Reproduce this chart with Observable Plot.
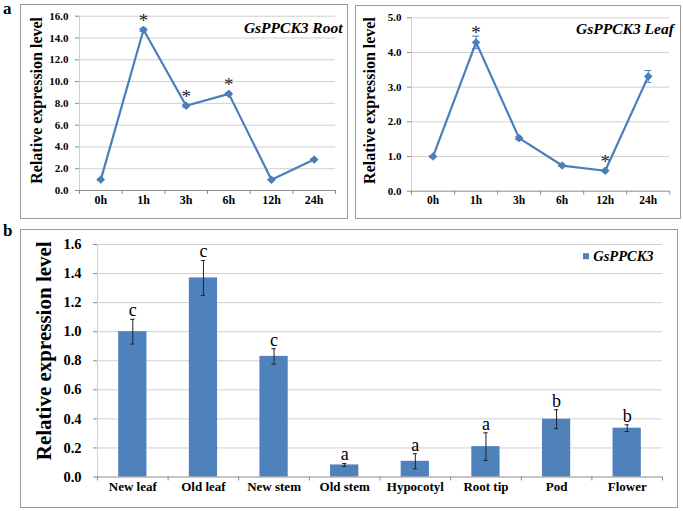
<!DOCTYPE html>
<html>
<head>
<meta charset="utf-8">
<script src="https://cdn.jsdelivr.net/npm/d3@7"></script>
<script src="https://cdn.jsdelivr.net/npm/@observablehq/plot@0.6"></script>
<style>
  body { margin: 0; background: #fff; }
  #wrap { position: relative; width: 683px; height: 511px; overflow: hidden; font-family: "Liberation Serif", serif; background: #fff; }
  .panel { position: absolute; }
  .panel svg { display: block; outline: 1px solid #9a9a9a; outline-offset: -1px; }
  .panel svg [aria-label^="x-axis"] line, .panel svg [aria-label^="x-axis"] path,
  .panel svg [aria-label^="y-axis"] line, .panel svg [aria-label^="y-axis"] path { stroke: #8c8c8c; }
  .lab { position: absolute; font-weight: bold; font-size: 17px; line-height: 1; }
</style>
</head>
<body>
<div id="wrap"></div>
<script>
// ---- data ----
const timePoints = ["0h", "1h", "3h", "6h", "12h", "24h"];
const rootValues = [1.0, 14.75, 7.78, 8.87, 0.98, 2.84];
const rootErrors = [0.08, 0.15, 0.12, 0.12, 0.06, 0.1];
const rootStars  = [false, true, true, true, false, false];
const rootTicks  = [0, 2, 4, 6, 8, 10, 12, 14, 16];

const leafValues = [1.0, 4.29, 1.53, 0.74, 0.59, 3.31];
const leafErrors = [0.03, 0.18, 0.05, 0.03, 0.03, 0.17];
const leafStars  = [false, true, false, false, true, false];
const leafTicks  = [0, 1, 2, 3, 4, 5];

const tissues = ["New leaf", "Old leaf", "New stem", "Old stem", "Hypocotyl", "Root tip", "Pod", "Flower"];
const tissueValues  = [1.0, 1.37, 0.83, 0.083, 0.108, 0.209, 0.398, 0.336];
const tissueErrors  = [0.085, 0.12, 0.053, 0.01, 0.052, 0.095, 0.065, 0.023];
const tissueLetters = ["c", "c", "c", "a", "a", "a", "b", "b"];
const tissueTicks   = [0, 0.2, 0.4, 0.6, 0.8, 1.0, 1.2, 1.4, 1.6];

const yTitle = "Relative expression level";
const geneName = "GsPPCK3";

// ---- styles ----
const BLUE = "#4a7ebb";
const BAR = "#4f81bd";
const GRID = "#d0d0d0";
const AXIS = "#8c8c8c";
const FONT = "Liberation Serif";

const wrap = document.getElementById("wrap");
function place(node, left, top) {
  const d = document.createElement("div");
  d.className = "panel";
  d.style.left = left + "px";
  d.style.top = top + "px";
  d.appendChild(node);
  wrap.appendChild(d);
}
function label(txt, left, top) {
  const d = document.createElement("div");
  d.className = "lab";
  d.textContent = txt;
  d.style.left = left + "px";
  d.style.top = top + "px";
  wrap.appendChild(d);
}

function lineChart(o) {
  const rows = timePoints.map((t, i) => ({t, i, v: o.values[i], e: o.errors[i], star: o.stars[i]}));
  const n = timePoints.length;
  const bounds = d3.range(n + 1).map(k => k - 0.5);
  const cap = 0.08;
  return Plot.plot({
    width: o.w, height: o.h,
    marginTop: o.m[0], marginRight: o.m[1], marginBottom: o.m[2], marginLeft: o.m[3],
    style: {fontFamily: FONT, fontSize: "11px", fontWeight: "bold", color: "#000", background: "#fff", overflow: "visible"},
    x: {type: "linear", domain: [-0.5, n - 0.5], ticks: bounds, tickFormat: () => "", tickSize: 4, label: null},
    y: {domain: [0, o.yMax], ticks: o.yTicks, tickFormat: d => d.toFixed(1), tickSize: 4, tickPadding: o.tickPad, label: null},
    marks: [
      Plot.ruleY(o.yTicks.filter(d => d > 0), {stroke: GRID}),
      Plot.ruleX([-0.5], {stroke: GRID}),
      Plot.ruleY([0], {stroke: AXIS}),
      Plot.ruleX(rows, {x: "i", y1: d => d.v - d.e, y2: d => d.v + d.e, stroke: BLUE}),
      Plot.ruleY(rows, {y: d => d.v + d.e, x1: d => d.i - cap, x2: d => d.i + cap, stroke: BLUE}),
      Plot.ruleY(rows, {y: d => d.v - d.e, x1: d => d.i - cap, x2: d => d.i + cap, stroke: BLUE}),
      Plot.line(rows, {x: "i", y: "v", stroke: BLUE, strokeWidth: 2.2}),
      Plot.dot(rows, {x: "i", y: "v", symbol: "diamond2", r: 3.4, fill: BLUE, stroke: BLUE, strokeWidth: 1}),
      Plot.text(rows.filter(d => d.star), {x: "i", y: "v", text: () => "*", lineAnchor: "bottom", dy: -3, fontSize: 19, fontWeight: "normal", fill: "#222"}),
      Plot.text(rows, {x: "i", text: "t", frameAnchor: "bottom", dy: 13, fontSize: o.xFont}),
      Plot.text([o.title], {text: d => d, frameAnchor: "top-right", textAnchor: "end", lineAnchor: "bottom", dx: o.titleDx, dy: o.titleDy, fontSize: 15.5, fontStyle: "italic"}),
      Plot.text([yTitle], {text: d => d, frameAnchor: "left", textAnchor: "middle", rotate: -90, dx: o.yTitleDx, dy: o.yTitleDy, fontSize: 16})
    ]
  });
}

// Panel a (root)
place(lineChart({
  values: rootValues, errors: rootErrors, stars: rootStars, yTicks: rootTicks, yMax: 16,
  title: geneName + " Root", w: 328, h: 215, m: [11.7, 13, 29, 59], tickPad: 7,
  titleDx: 7, titleDy: 16.3, yTitleDx: -42.4, yTitleDy: -3, xFont: 12
}), 20, 4);

// Panel a (leaf)
place(lineChart({
  values: leafValues, errors: leafErrors, stars: leafStars, yTicks: leafTicks, yMax: 5,
  title: geneName + " Leaf", w: 326, h: 214, m: [12.3, 11.7, 28.3, 56], tickPad: 6,
  titleDx: 4, titleDy: 15.7, yTitleDx: -41.8, yTitleDy: -4, xFont: 11.5
}), 355, 5);

// Panel b (tissues)
(function () {
  const rows = tissues.map((t, i) => ({t, i, v: tissueValues[i], e: tissueErrors[i], l: tissueLetters[i]}));
  const n = tissues.length;
  const bounds = d3.range(n + 1).map(k => k - 0.5);
  const half = 0.2, cap = 0.03;
  const chart = Plot.plot({
    width: 658, height: 279,
    marginTop: 15, marginRight: 16, marginBottom: 31.5, marginLeft: 77,
    style: {fontFamily: FONT, fontSize: "14.5px", fontWeight: "bold", color: "#000", background: "#fff", overflow: "visible"},
    x: {type: "linear", domain: [-0.5, n - 0.5], ticks: bounds, tickFormat: () => "", tickSize: 4, label: null},
    y: {domain: [0, 1.6], ticks: tissueTicks, tickFormat: d => d.toFixed(1), tickSize: 4, tickPadding: 12, label: null},
    marks: [
      Plot.ruleY(tissueTicks.filter(d => d > 0), {stroke: GRID}),
      Plot.ruleX([-0.5], {stroke: GRID}),
      Plot.rect(rows, {x1: d => d.i - half, x2: d => d.i + half, y1: 0, y2: "v", fill: BAR}),
      Plot.ruleY([0], {stroke: AXIS}),
      Plot.ruleX(rows, {x: "i", y1: d => d.v - d.e, y2: d => d.v + d.e, stroke: "#222"}),
      Plot.ruleY(rows, {y: d => d.v + d.e, x1: d => d.i - cap, x2: d => d.i + cap, stroke: "#222"}),
      Plot.ruleY(rows, {y: d => d.v - d.e, x1: d => d.i - cap, x2: d => d.i + cap, stroke: "#222"}),
      Plot.text(rows, {x: "i", y: d => d.v + d.e, text: "l", lineAnchor: "bottom", dy: -3, fontSize: 18, fontWeight: "normal"}),
      Plot.text(rows, {x: "i", text: "t", frameAnchor: "bottom", dy: 14, fontSize: 13}),
      Plot.dot([geneName], {frameAnchor: "top-right", symbol: "square", r: 3.4, fill: BAR, dx: -76.5, dy: 11.7}),
      Plot.text([geneName], {text: d => d, frameAnchor: "top-right", textAnchor: "start", lineAnchor: "bottom", dx: -69.3, dy: 16.5, fontSize: 14.5, fontStyle: "italic"}),
      Plot.text([yTitle], {text: d => d, frameAnchor: "left", textAnchor: "middle", rotate: -90, dx: -53, dy: -10, fontSize: 21})
    ]
  });
  place(chart, 20, 229);
})();

label("a", 3, 0);
label("b", 3, 222);
</script>
</body>
</html>
